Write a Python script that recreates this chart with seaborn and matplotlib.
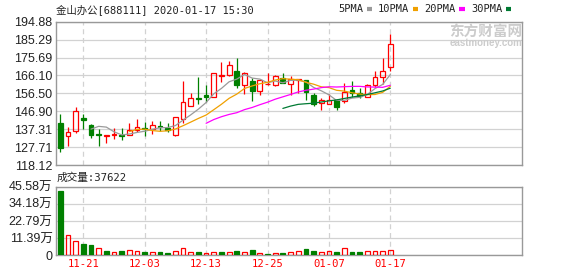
import numpy as np
import pandas as pd
import matplotlib
matplotlib.use("Agg")
import matplotlib.pyplot as plt
import seaborn as sns

# ---------------- data ----------------
stock_title = "金山办公[688111] 2020-01-17 15:30"
vol_caption = "成交量:37622"

opens = [140.4, 133.9, 136.5, 143.4, 139.7, 134.5, 133.8, 134.1, 134.4, 134.1,
         136.7, 138.1, 137.2, 139.2, 137.8, 134.1, 142.9, 149.7, 153.9, 155.5,
         154.5, 165.9, 166.3, 168.7, 160.8, 163.1, 157.6, 161.3, 160.8, 164.5,
         161.7, 163.8, 163.6, 155.7, 151.3, 150.8, 153.1, 152.4, 158.3, 156.9,
         154.7, 160.8, 165.4, 170.7]
highs = [145.7, 138.6, 149.4, 145.7, 140.0, 137.2, 134.2, 138.1, 137.9, 140.4,
         142.5, 141.1, 141.5, 141.5, 140.4, 144.0, 163.1, 156.8, 165.2, 161.2,
         167.4, 173.5, 173.7, 175.3, 167.7, 164.5, 163.8, 167.5, 166.3, 167.2,
         165.9, 164.3, 163.8, 156.9, 154.0, 156.2, 153.3, 162.2, 163.1, 159.2,
         161.3, 168.6, 175.3, 188.5]
lows = [125.3, 128.4, 135.3, 137.2, 132.7, 128.4, 129.7, 131.9, 131.6, 134.1,
        135.8, 133.4, 134.8, 136.4, 135.7, 133.9, 140.8, 149.7, 150.8, 151.7,
        154.3, 162.4, 165.7, 159.2, 156.1, 152.2, 155.4, 161.2, 160.7, 161.9,
        155.4, 156.9, 153.1, 149.6, 147.8, 150.7, 147.5, 151.5, 154.7, 153.8,
        154.4, 160.1, 161.5, 168.6]
closes = [127.0, 136.0, 147.1, 142.3, 134.3, 134.4, 134.0, 134.6, 133.9, 136.7,
          138.6, 137.2, 139.7, 138.3, 137.1, 143.9, 151.8, 153.9, 153.6, 154.8,
          167.2, 166.3, 171.6, 160.8, 167.2, 157.5, 163.6, 161.7, 165.7, 162.2,
          164.0, 164.2, 157.3, 150.8, 153.1, 153.2, 149.2, 157.4, 156.9, 155.1,
          160.8, 165.0, 168.6, 183.2]
volumes_wan = [42.7, 13.3, 9.5, 7.5, 6.9, 4.7, 2.9, 2.0, 2.9, 3.3,
               2.7, 2.2, 2.0, 2.2, 1.6, 2.7, 4.7, 2.0, 2.2, 1.3,
               2.0, 2.2, 2.0, 2.9, 2.0, 3.5, 1.3, 0.9, 1.3, 1.6,
               2.0, 2.7, 4.2, 2.9, 2.0, 2.7, 2.2, 4.7, 2.2, 2.2,
               2.7, 2.7, 2.7, 3.7622]

price_ticks = [118.12, 127.715, 137.31, 146.905, 156.50, 166.095, 175.69, 185.285, 194.88]
price_tick_labels = ["118.12", "127.71", "137.31", "146.90", "156.50",
                     "166.10", "175.69", "185.29", "194.88"]
vol_ticks = [0, 11.395, 22.79, 34.185, 45.58]
vol_tick_labels = ["0", "11.39万", "22.79万", "34.18万", "45.58万"]
date_tick_labels = ["11-21", "12-03", "12-13", "12-25", "01-07", "01-17"]

ma_windows = [5, 10, 20, 30]
ma_names = ["5PMA", "10PMA", "20PMA", "30PMA"]
ma_colors = ["#9a9a9a", "#f0a000", "#ff00ff", "#007a33"]

RED = "#ff0000"
GREEN = "#008000"
GRID = "#d2d2d2"
FRAME = "#999999"
TXT = "#222222"

# trading days (2020-01-01 holiday)
days = pd.bdate_range("2019-11-18", "2020-01-17")
days = days[days != pd.Timestamp("2020-01-01")]
date_labels = list(days.strftime("%m-%d"))

df = pd.DataFrame({"open": opens, "high": highs, "low": lows,
                   "close": closes, "vol": volumes_wan, "date": date_labels})
df["x"] = np.arange(len(df))
for w, n in zip(ma_windows, ma_names):
    df[n] = df["close"].rolling(w).mean()

# ---------------- style ----------------
sns.set_theme(style="white")
plt.rcParams["font.family"] = ["Liberation Sans", "Noto Sans CJK SC"]
MONO = ["DejaVu Sans Mono", "Noto Sans CJK SC"]

W, H = 578, 276
fig = plt.figure(figsize=(W / 100, H / 100), dpi=100)
fig.patch.set_facecolor("white")

def frac_axes(l, t, r, b):
    return fig.add_axes([l / W, 1 - b / H, (r - l) / W, (b - t) / H])

ax = frac_axes(56, 21.7, 522.3, 165.0)
axv = frac_axes(56, 186.7, 522.3, 255.3)

XL = (-0.56, 60.2)
tick_pos = [date_labels.index(d) for d in date_tick_labels]

up = df["close"] >= df["open"]
body_lo = np.minimum(df["open"], df["close"])
body_hi = np.maximum(df["open"], df["close"])
body_h = np.maximum(body_hi - body_lo, 0.2)
BW = 0.62
LW = 0.9

# candles
for mask, col, face in [(up, RED, "none"), (~up, GREEN, GREEN)]:
    ax.vlines(df["x"][mask], df["low"][mask], body_lo[mask], color=col, lw=LW, zorder=3)
    ax.vlines(df["x"][mask], body_hi[mask], df["high"][mask], color=col, lw=LW, zorder=3)
    ax.bar(df["x"][mask], body_h[mask], bottom=body_lo[mask], width=BW,
           facecolor=face, edgecolor=col, linewidth=LW, zorder=4)

# moving averages
handles = []
for n, c in zip(ma_names, ma_colors):
    sns.lineplot(data=df, x="x", y=n, color=c, lw=0.9, ax=ax, zorder=5)
    handles.append(ax.lines[-1])

# volume colour: close vs previous close
prev = df["close"].shift(1).fillna(df["open"])
vup = df["close"] >= prev
for mask, col, face in [(vup, RED, "none"), (~vup, GREEN, GREEN)]:
    axv.bar(df["x"][mask], df["vol"][mask], width=BW, facecolor=face,
            edgecolor=col, linewidth=LW, zorder=4)

for a, yt, ylab, yl in [(ax, price_ticks, price_tick_labels, (118.12, 194.88)),
                        (axv, vol_ticks, vol_tick_labels, (0, 45.58))]:
    a.set_xlim(*XL)
    a.set_ylim(*yl)
    a.set_yticks(yt)
    a.set_yticklabels(ylab, color=TXT, fontsize=9)
    a.set_xticks(tick_pos)
    a.set_xlabel("")
    a.set_ylabel("")
    a.grid(False)
    for y in yt:
        a.axhline(y, color=GRID, lw=0.9, zorder=1)
    for xp in tick_pos:
        a.axvline(xp, color=GRID, lw=0.9, ls=(0, (4, 3)), zorder=1)
    a.tick_params(axis="both", length=0, pad=2.5)
    for s in a.spines.values():
        s.set_color(FRAME)
        s.set_linewidth(1.0)
        s.set_visible(True)

ax.set_xticklabels([])
axv.set_xticklabels(date_tick_labels, color=RED, fontsize=7.6, family=MONO)
axv.tick_params(axis="x", pad=3)

# texts
fig.text(56 / W, 1 - 9.5 / H, stock_title, ha="left", va="center",
         fontsize=7.5, color=TXT, family=MONO)
fig.text(57 / W, 1 - 177.5 / H, vol_caption, ha="left", va="center",
         fontsize=7.7, color=TXT, family=MONO)

leg = fig.legend(handles, ma_names, loc="center right",
                 bbox_to_anchor=(511 / W, 1 - 9.5 / H), ncol=4, frameon=False,
                 markerfirst=False, handlelength=0.5, handletextpad=0.35,
                 columnspacing=0.6, borderpad=0, borderaxespad=0,
                 prop={"family": MONO, "size": 7.5})
for h in leg.legend_handles:
    h.set_linewidth(3)
    h.set_solid_capstyle("butt")
for t in leg.get_texts():
    t.set_color(TXT)

# watermark
fig.text(522 / W, 1 - 31.5 / H, "东方财富网", ha="right", va="center",
         fontsize=10.5, color="#cccccc", fontweight="bold",
         family=["Noto Sans CJK SC"], zorder=0)
fig.text(522 / W, 1 - 43.5 / H, "eastmoney.com", ha="right", va="center",
         fontsize=7, color="#cccccc", fontweight="bold",
         family=["Liberation Sans"], zorder=0)

fig.savefig("out.png", dpi=100, facecolor="white")
